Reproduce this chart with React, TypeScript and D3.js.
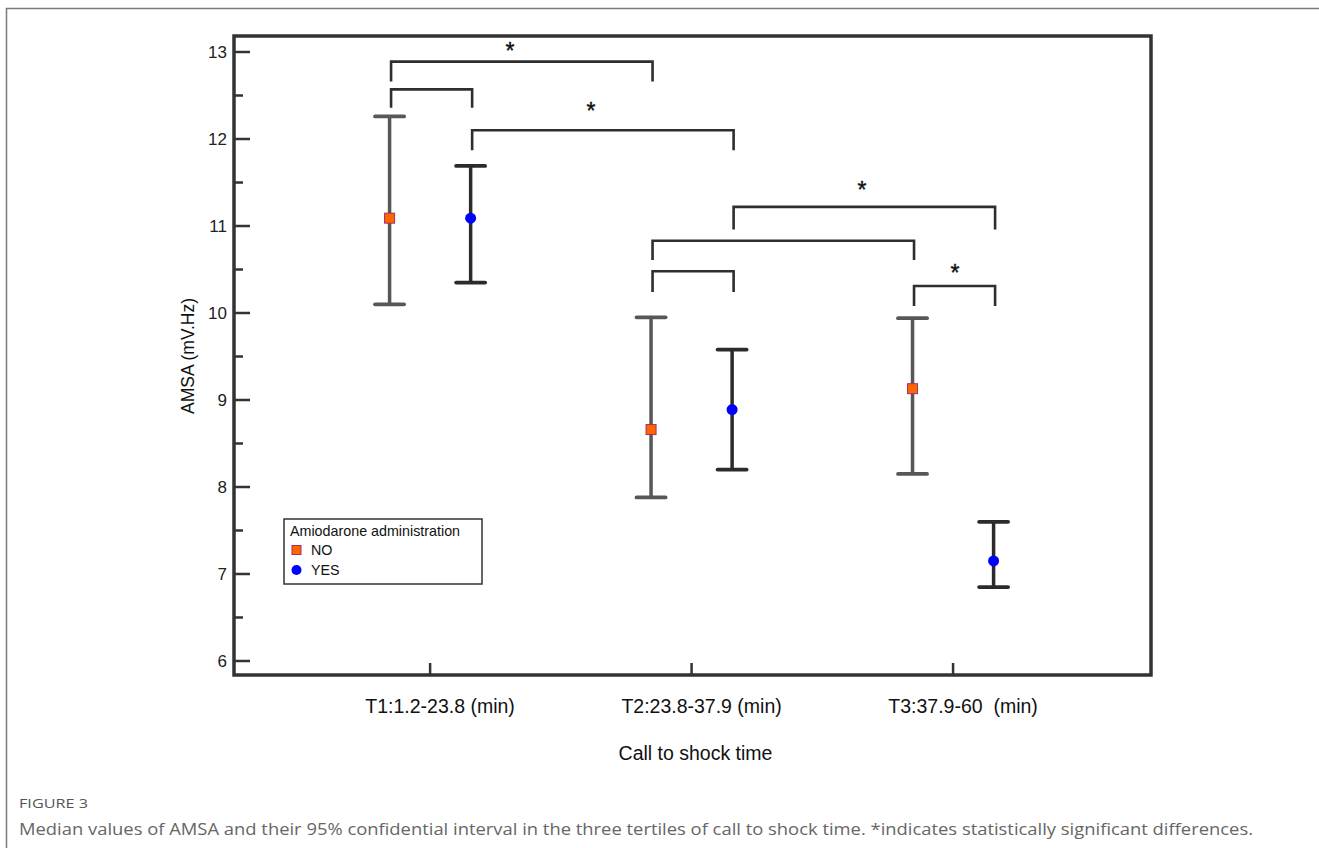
import React from "react";
import * as d3 from "d3";

const categories = ["T1:1.2-23.8 (min)", "T2:23.8-37.9 (min)", "T3:37.9-60  (min)"];
const noMedian = [11.09, 8.66, 9.13];
const noLower = [10.1, 7.88, 8.15];
const noUpper = [12.26, 9.95, 9.94];
const yesMedian = [11.09, 8.89, 7.15];
const yesLower = [10.35, 8.2, 6.85];
const yesUpper = [11.69, 9.58, 7.6];
const yTicks = [6, 7, 8, 9, 10, 11, 12, 13];
const yMinorTicks = [6.5, 7.5, 8.5, 9.5, 10.5, 11.5, 12.5];

// brackets: [category index, series (0 = NO, 1 = YES)]
const bracketStart = [[0, 0], [0, 0], [0, 1], [1, 1], [1, 0], [1, 0], [2, 0]];
const bracketEnd = [[1, 0], [0, 1], [1, 1], [2, 1], [2, 0], [1, 1], [2, 1]];
const bracketTop = [12.89, 12.57, 12.1, 11.22, 10.83, 10.48, 10.31];
const bracketLeg = [12.66, 12.36, 11.87, 10.96, 10.61, 10.24, 10.08];
// significance stars: x position (category units) and y value (centre)
const starX = [1.305, 1.615, 2.652, 3.007];
const starY = [13.07, 12.38, 11.48, 10.52];

const legendTitle = "Amiodarone administration";
const seriesNames = ["NO", "YES"];
const xTitle = "Call to shock time";
const yTitle = "AMSA (mV.Hz)";
const figLabel = "FIGURE 3";
const caption =
  "Median values of AMSA and their 95% confidential interval in the three tertiles of call to shock time. *indicates statistically significant differences.";

const W = 1319;
const H = 848;
const left = 234;
const right = 1151;
const top = 36;
const bottom = 675;

export default function App() {
  const x = d3.scaleLinear().domain([0.25, 3.757]).range([left, right]);
  const y = d3.scaleLinear().domain([5.839, 13.184]).range([bottom, top]);
  const off = 0.155;
  const sx = (c: number, s: number) => x(c + 1 + (s === 0 ? -off : off));
  const font = "Liberation Sans, Arial, sans-serif";
  const cap = 14.5;

  const series = [
    { med: noMedian, lo: noLower, hi: noUpper, color: "#575757" },
    { med: yesMedian, lo: yesLower, hi: yesUpper, color: "#2b2b2b" },
  ];

  return (
    <svg
      width={W}
      height={H}
      style={{ position: "absolute", left: 0, top: 0, background: "#fff" }}
    >
      <rect x={6.5} y={8.5} width={W + 20} height={H + 20} fill="none" stroke="#7a7a7a" strokeWidth={1.5} />
      <rect x={left} y={top} width={right - left} height={bottom - top} fill="none" stroke="#333" strokeWidth={3.5} />

      {yTicks.map((t) => (
        <g key={"yt" + t}>
          <line x1={left} x2={left + 16} y1={y(t)} y2={y(t)} stroke="#333" strokeWidth={2.5} />
          <text x={227} y={y(t)} dy="0.35em" textAnchor="end" fontFamily={font} fontSize={17} fill="#222">
            {t}
          </text>
        </g>
      ))}
      {yMinorTicks.map((t) => (
        <line key={"ym" + t} x1={left} x2={left + 9} y1={y(t)} y2={y(t)} stroke="#333" strokeWidth={2.5} />
      ))}

      {categories.map((c, i) => (
        <g key={c}>
          <line x1={x(i + 1)} x2={x(i + 1)} y1={bottom} y2={bottom - 12} stroke="#333" strokeWidth={2.5} />
          <text x={x(i + 1) + 10} y={713} textAnchor="middle" fontFamily={font} fontSize={19.5} fill="#111" style={{ whiteSpace: "pre" }}>
            {c}
          </text>
        </g>
      ))}

      <text x={695.5} y={760} textAnchor="middle" fontFamily={font} fontSize={19.5} fill="#111">
        {xTitle}
      </text>
      <text
        transform={`translate(194,356) rotate(-90)`}
        textAnchor="middle"
        fontFamily={font}
        fontSize={17.5}
        fill="#111"
      >
        {yTitle}
      </text>

      {bracketStart.map((s, i) => {
        const e = bracketEnd[i];
        const x1 = sx(s[0], s[1]) + 1.5;
        const x2 = sx(e[0], e[1]) + 1.5;
        const yt = y(bracketTop[i]);
        const yl = y(bracketLeg[i]);
        return (
          <path
            key={"b" + i}
            d={`M${x1},${yl}V${yt}H${x2}V${yl}`}
            fill="none"
            stroke="#2e2e2e"
            strokeWidth={2.6}
          />
        );
      })}
      {starX.map((sxv, i) => (
        <text
          key={"s" + i}
          x={x(sxv)}
          y={y(starY[i])}
          dy="0.58em"
          textAnchor="middle"
          fontFamily={font}
          fontSize={23}
          fill="#111"
          stroke="#111"
          strokeWidth={0.4}
        >
          *
        </text>
      ))}

      {series.map((s, si) =>
        categories.map((c, ci) => {
          const cx = sx(ci, si);
          return (
            <g key={"e" + si + ci}>
              <line x1={cx} x2={cx} y1={y(s.lo[ci])} y2={y(s.hi[ci])} stroke={s.color} strokeWidth={3.5} />
              <line x1={cx - cap} x2={cx + cap} y1={y(s.hi[ci])} y2={y(s.hi[ci])} stroke={s.color} strokeWidth={3.8} strokeLinecap="round" />
              <line x1={cx - cap} x2={cx + cap} y1={y(s.lo[ci])} y2={y(s.lo[ci])} stroke={s.color} strokeWidth={3.8} strokeLinecap="round" />
              {si === 0 ? (
                <rect x={cx - 5} y={y(s.med[ci]) - 5} width={10} height={10} fill="#ff6600" stroke="#a0306a" strokeWidth={1} />
              ) : (
                <circle cx={cx} cy={y(s.med[ci])} r={5.5} fill="#0000ff" />
              )}
            </g>
          );
        })
      )}

      <g>
        <rect x={284} y={519} width={198} height={65} fill="#fff" stroke="#333" strokeWidth={1.5} />
        <text x={290} y={536} fontFamily={font} fontSize={14.3} fill="#111">
          {legendTitle}
        </text>
        <rect x={292} y={545.5} width={9} height={9} fill="#ff6600" stroke="#a0306a" strokeWidth={1} />
        <text x={311} y={555} fontFamily={font} fontSize={14.3} fill="#111">
          {seriesNames[0]}
        </text>
        <circle cx={296.5} cy={570} r={5} fill="#0000ff" />
        <text x={311} y={575} fontFamily={font} fontSize={14.3} fill="#111">
          {seriesNames[1]}
        </text>
      </g>

      <text x={19} y={808} fontFamily="'Open Sans', Lato, sans-serif" fontSize={13.5} fill="#555" textLength={69} lengthAdjust="spacingAndGlyphs">
        {figLabel}
      </text>
      <text x={19} y={835} fontFamily="'Open Sans', Lato, sans-serif" fontSize={17} fill="#666" textLength={1234} lengthAdjust="spacingAndGlyphs">
        {caption}
      </text>
    </svg>
  );
}
